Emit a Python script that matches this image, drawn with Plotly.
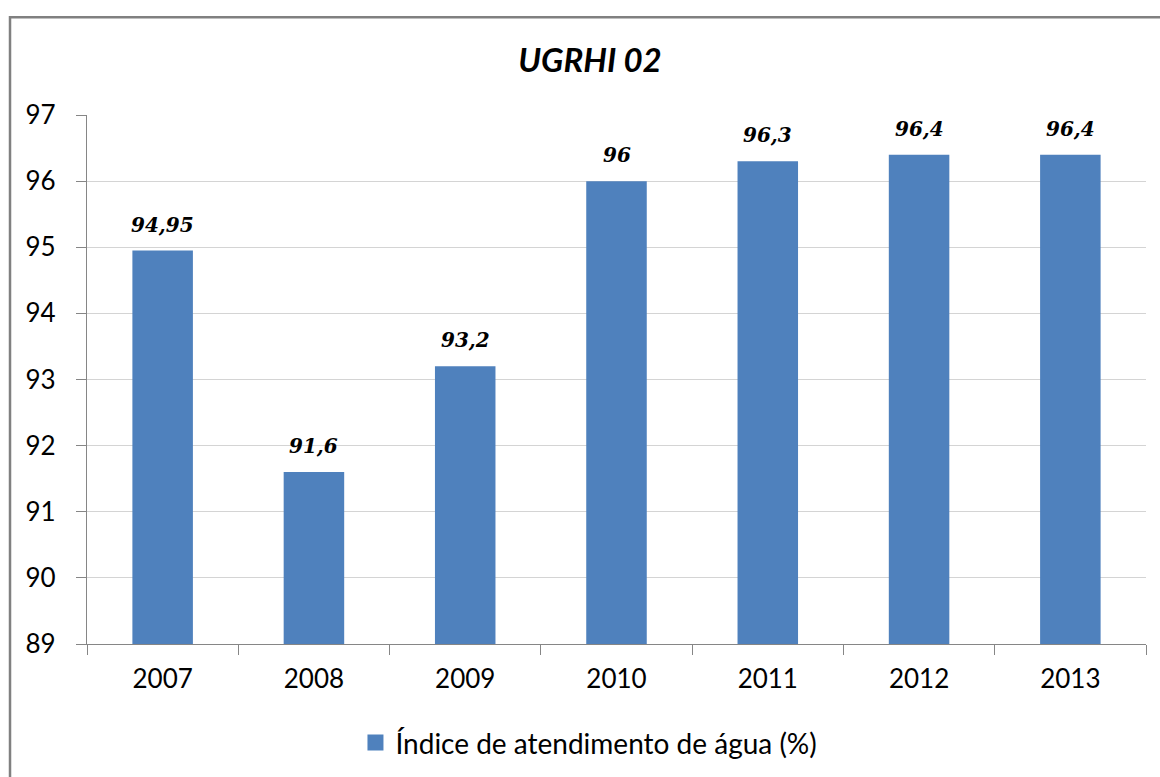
import plotly.graph_objects as go

years = ["2007", "2008", "2009", "2010", "2011", "2012", "2013"]
values = [94.95, 91.6, 93.2, 96.0, 96.3, 96.4, 96.4]
labels = ["94,95", "91,6", "93,2", "96", "96,3", "96,4", "96,4"]
series_name = "Índice de atendimento de água (%)"
y_ticks = [89, 90, 91, 92, 93, 94, 95, 96, 97]
bar_color = "#4F81BD"

fig = go.Figure()
fig.add_trace(go.Bar(
    x=years, y=values, name=series_name, showlegend=False,
    marker=dict(color=bar_color, line=dict(width=0)),
    width=0.4,
))
# legend entry with a larger square swatch
fig.add_trace(go.Scatter(
    x=[None], y=[None], mode="markers", name=series_name,
    marker=dict(symbol="square", size=17, color=bar_color),
))

for i, (yv, t) in enumerate(zip(values, labels)):
    fig.add_annotation(x=i, y=yv, text="<b><i>" + t + "</i></b>", showarrow=False,
                       yanchor="middle", yshift=26,
                       font=dict(family="DejaVu Serif", size=20, color="#000000"))

fig.add_shape(type="rect", xref="paper", yref="paper",
              x0=-0.0727, x1=1.05, y0=-0.6, y1=1.185,
              line=dict(color="#808080", width=2.5), fillcolor="rgba(0,0,0,0)", layer="below")

fig.update_layout(
    width=1160, height=777,
    margin=dict(l=87, r=14, t=115, b=133, autoexpand=False),
    paper_bgcolor="white", plot_bgcolor="white",
    separators=",.",
    title=dict(text="<b><i>UGRHI 02</i></b>", x=590 / 1160, xanchor="center",
               y=1 - 60 / 777, yanchor="middle", yref="container",
               font=dict(family="Lato", size=33, color="#000000"), automargin=False),
    showlegend=True,
    legend=dict(orientation="h", x=0.474, xanchor="center", y=-0.187, yanchor="middle",
                font=dict(family="Lato", size=28, color="#000000"),
                itemwidth=30, bgcolor="rgba(0,0,0,0)"),
    font=dict(family="Lato", color="#000000"),
)

fig.update_yaxes(range=[89, 97], tickvals=y_ticks, showgrid=True, gridcolor="#D4D4D4",
                 gridwidth=1.2, showline=True, linecolor="#868686", linewidth=1.2,
                 ticks="outside", ticklen=10, tickcolor="#868686", automargin=False,
                 ticklabelstandoff=15,
                 tickfont=dict(family="Lato", size=26, color="#000000"), zeroline=False)
fig.update_xaxes(type="category", showline=True, linecolor="#868686", linewidth=1.2,
                 ticks="outside", ticklen=10, tickcolor="#868686", tickson="boundaries",
                 tickfont=dict(family="Lato", size=26, color="#000000"), tickangle=0,
                 ticklabelstandoff=12,
                 showgrid=False, automargin=False)

fig.write_html("out.html", config={"displayModeBar": False},
               post_script="document.body.style.margin='0';")
